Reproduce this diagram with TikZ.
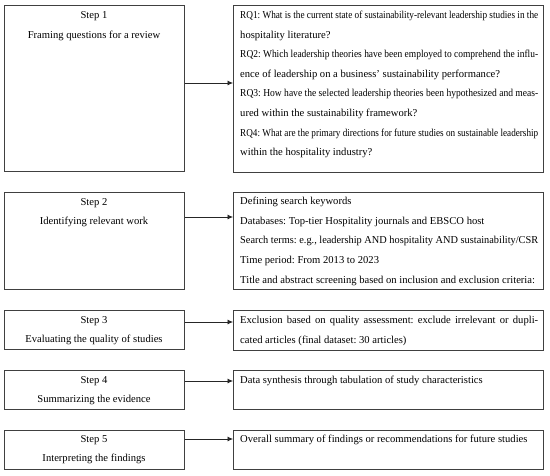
\documentclass[tikz,border=0pt]{standalone}
\usepackage{fontspec}
\usepackage{graphicx}
\setmainfont{Liberation Serif}
\usetikzlibrary{arrows.meta}
\frenchspacing
\newsavebox\jbox
\newcommand{\jl}[1]{\sbox\jbox{#1}\ifdim\wd\jbox>298pt\resizebox{298pt}{\height}{\usebox\jbox}\else\makebox[298pt][s]{#1}\fi}
\newcommand{\fl}[1]{\sbox\jbox{#1}\ifdim\wd\jbox>298pt\resizebox{298pt}{\height}{\usebox\jbox}\else\usebox\jbox\fi}
\begin{document}
\begin{tikzpicture}[x=1pt,y=-1pt,
  box/.style={draw=black!75, line width=0.8pt, inner sep=0pt, anchor=north west},
  arr/.style={draw=black!85, line width=0.7pt, -{Latex[length=5.5pt,width=5pt]}},
  txt/.style={font=\fontsize{10.6}{12}\selectfont\frenchspacing, anchor=west, inner sep=0pt},
  ctxt/.style={font=\fontsize{10.6}{12}\selectfont, anchor=center, inner sep=0pt}
]
\useasboundingbox[fill=white] (0,0) rectangle (550,475);
% left boxes
\node[box, minimum width=180pt, minimum height=166pt] (s1) at (4,5) {};
\node[box, minimum width=180pt, minimum height=97pt] (s2) at (4,192) {};
\node[box, minimum width=180pt, minimum height=39pt] (s3) at (4,310) {};
\node[box, minimum width=180pt, minimum height=39pt] (s4) at (4,370) {};
\node[box, minimum width=180pt, minimum height=39pt] (s5) at (4,430) {};
% right boxes
\node[box, minimum width=310pt, minimum height=167pt] (r1) at (233,5) {};
\node[box, minimum width=310pt, minimum height=97pt] (r2) at (233,192) {};
\node[box, minimum width=310pt, minimum height=40pt] (r3) at (233,310) {};
\node[box, minimum width=310pt, minimum height=39pt] (r4) at (233,370) {};
\node[box, minimum width=310pt, minimum height=39pt] (r5) at (233,430) {};
% left texts
\node[ctxt] (s1a) at (94,16) {Step 1};
\node[ctxt] (s1b) at (94,36) {Framing questions for a review};
\node[ctxt] (s2a) at (94,203) {Step 2};
\node[ctxt] (s2b) at (94,222) {Identifying relevant work};
\node[ctxt] (s3a) at (94,321) {Step 3};
\node[ctxt] (s3b) at (94,340) {Evaluating the quality of studies};
\node[ctxt] (s4a) at (94,381) {Step 4};
\node[ctxt] (s4b) at (94,400) {Summarizing the evidence};
\node[ctxt] (s5a) at (94,440) {Step 5};
\node[ctxt] (s5b) at (94,459) {Interpreting the findings};
% right texts box 1
\node[txt] (r1l1) at (240,16) {\jl{RQ1: What is the current state of sustainability-relevant leadership studies in the}};
\node[txt] (r1l2) at (240,35.6) {hospitality literature?};
\node[txt] (r1l3) at (240,55.2) {\jl{RQ2: Which leadership theories have been employed to comprehend the influ-}};
\node[txt] (r1l4) at (240,74.8) {ence of leadership on a business’ sustainability performance?};
\node[txt] (r1l5) at (240,94.4) {\jl{RQ3: How have the selected leadership theories been hypothesized and meas-}};
\node[txt] (r1l6) at (240,114) {ured within the sustainability framework?};
\node[txt] (r1l7) at (240,133.6) {\jl{RQ4: What are the primary directions for future studies on sustainable leadership}};
\node[txt] (r1l8) at (240,153.2) {within the hospitality industry?};
% box 2
\node[txt] (r2l1) at (240,202) {Defining search keywords};
\node[txt] (r2l2) at (240,221.7) {Databases: Top-tier Hospitality journals and EBSCO host};
\node[txt] (r2l3) at (240,241.4) {\fl{Search terms: e.g., leadership AND hospitality AND sustainability/CSR}};
\node[txt] (r2l4) at (240,261.1) {Time period: From 2013 to 2023};
\node[txt] (r2l5) at (240,280.8) {\fl{Title and abstract screening based on inclusion and exclusion criteria:}};
% box 3
\node[txt] (r3l1) at (240,321) {\jl{Exclusion based on quality assessment: exclude irrelevant or dupli-}};
\node[txt] (r3l2) at (240,340.6) {cated articles (final dataset: 30 articles)};
% box 4
\node[txt] (r4l1) at (240,381) {Data synthesis through tabulation of study characteristics};
% box 5
\node[txt] (r5l1) at (240,440) {Overall summary of findings or recommendations for future studies};
% arrows
\coordinate (a1) at (0,83);
\coordinate (a2) at (0,217);
\coordinate (a3) at (0,322);
\coordinate (a4) at (0,381);
\coordinate (a5) at (0,439);
\draw[arr] (s1.east |- a1) -- (r1.west |- a1);
\draw[arr] (s2.east |- a2) -- (r2.west |- a2);
\draw[arr] (s3.east |- a3) -- (r3.west |- a3);
\draw[arr] (s4.east |- a4) -- (r4.west |- a4);
\draw[arr] (s5.east |- a5) -- (r5.west |- a5);
\end{tikzpicture}
\end{document}
